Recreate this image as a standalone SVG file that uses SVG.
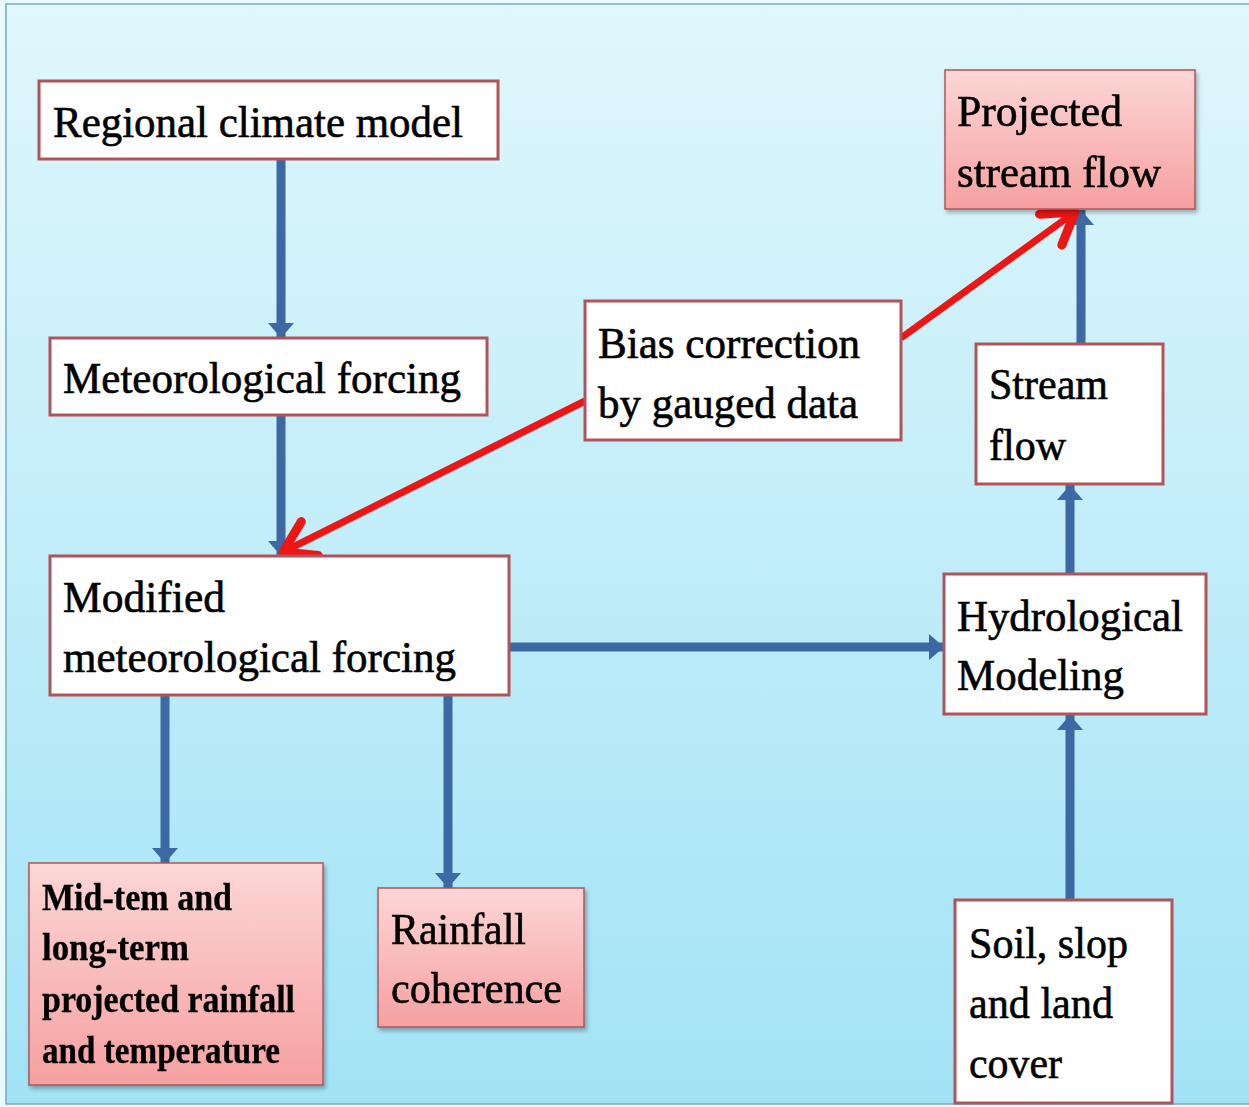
<svg xmlns="http://www.w3.org/2000/svg" width="1249" height="1107" viewBox="0 0 1249 1107">
<defs>
<linearGradient id="bg" x1="0" y1="0" x2="0" y2="1">
<stop offset="0" stop-color="#e0f7fc"/>
<stop offset="1" stop-color="#a2e3f6"/>
</linearGradient>
<linearGradient id="pink" x1="0" y1="0" x2="0" y2="1">
<stop offset="0" stop-color="#fcd6d6"/>
<stop offset="1" stop-color="#f6a0a0"/>
</linearGradient>
<filter id="sh" x="-10%" y="-10%" width="130%" height="130%">
<feDropShadow dx="2" dy="3" stdDeviation="2" flood-color="#000" flood-opacity="0.3"/>
</filter>
<marker id="bh" markerUnits="userSpaceOnUse" markerWidth="28" markerHeight="28" viewBox="0 0 28 28" refX="15" refY="14" orient="auto">
<path d="M0,1 L15,14 L0,27 Z" fill="#3c68a3"/>
</marker>
<marker id="rh" markerUnits="userSpaceOnUse" markerWidth="50" markerHeight="50" viewBox="0 0 50 50" refX="42" refY="25" orient="auto">
<path d="M12,6 L42,25 L12,44" fill="none" stroke="#ee1515" stroke-width="9" stroke-linecap="round" stroke-linejoin="round"/>
</marker>
</defs>
<style>
.box{fill:#ffffff;stroke:#b0545a;stroke-width:3}
.pbox{fill:url(#pink);stroke:#b0545a;stroke-width:1.5}
text{font-family:'Liberation Serif','Times New Roman',Times,serif;fill:#000;stroke:#000;stroke-width:0.6}
.t{font-size:44px}
.tb{font-size:38px;font-weight:bold;stroke-width:0.3}
.blue{stroke:#3c68a3;stroke-width:9;fill:none}
.red{stroke:#ee1515;stroke-width:7;fill:none}
</style>
<rect x="0" y="0" width="1249" height="1107" fill="#e8fafd"/>
<rect x="6" y="4" width="1260" height="1100" fill="url(#bg)" stroke="#7fa9b6" stroke-width="1.5"/>

<g id="connectors">
<line class="blue" x1="281" y1="160" x2="281" y2="338" marker-end="url(#bh)"/>
<line class="blue" x1="281" y1="415" x2="281" y2="556" marker-end="url(#bh)"/>
<line class="blue" x1="165" y1="695" x2="165" y2="863" marker-end="url(#bh)"/>
<line class="blue" x1="448" y1="695" x2="448" y2="888" marker-end="url(#bh)"/>
<line class="blue" x1="509" y1="647" x2="944" y2="647" marker-end="url(#bh)"/>
<line class="blue" x1="1070" y1="900" x2="1070" y2="715" marker-end="url(#bh)"/>
<line class="blue" x1="1070" y1="573" x2="1070" y2="485" marker-end="url(#bh)"/>
<line class="blue" x1="1081" y1="352" x2="1081" y2="210" marker-end="url(#bh)"/>
<line class="red" x1="585" y1="401" x2="283" y2="552" marker-end="url(#rh)"/>
<line class="red" x1="901" y1="338" x2="1075" y2="212" marker-end="url(#rh)"/>
</g>

<g id="regional-climate-model">
<rect class="box" x="39" y="81" width="459" height="78"/>
<text class="t" x="53" y="137" textLength="410" lengthAdjust="spacingAndGlyphs">Regional climate model</text>
</g>
<g id="meteorological-forcing">
<rect class="box" x="50" y="338" width="437" height="77"/>
<text class="t" x="63" y="393" textLength="398" lengthAdjust="spacingAndGlyphs">Meteorological forcing</text>
</g>
<g id="modified-forcing">
<rect class="box" x="50" y="556" width="459" height="139"/>
<text class="t" x="63" y="612" textLength="162" lengthAdjust="spacingAndGlyphs">Modified</text>
<text class="t" x="63" y="672" textLength="393" lengthAdjust="spacingAndGlyphs">meteorological forcing</text>
</g>
<g id="bias-correction">
<rect class="box" x="585" y="301" width="316" height="139"/>
<text class="t" x="598" y="358" textLength="262" lengthAdjust="spacingAndGlyphs">Bias correction</text>
<text class="t" x="598" y="418" textLength="260" lengthAdjust="spacingAndGlyphs">by gauged data</text>
</g>
<g id="projected-stream-flow" filter="url(#sh)">
<rect class="pbox" x="945" y="70" width="250" height="139"/>
<text class="t" x="957" y="126" textLength="165" lengthAdjust="spacingAndGlyphs">Projected</text>
<text class="t" x="957" y="187" textLength="204" lengthAdjust="spacingAndGlyphs">stream flow</text>
</g>
<g id="stream-flow">
<rect class="box" x="976" y="344" width="187" height="140"/>
<text class="t" x="989" y="399" textLength="119" lengthAdjust="spacingAndGlyphs">Stream</text>
<text class="t" x="989" y="460" textLength="77" lengthAdjust="spacingAndGlyphs">flow</text>
</g>
<g id="hydrological-modeling">
<rect class="box" x="944" y="574" width="262" height="140"/>
<text class="t" x="957" y="631" textLength="226" lengthAdjust="spacingAndGlyphs">Hydrological</text>
<text class="t" x="957" y="690" textLength="167" lengthAdjust="spacingAndGlyphs">Modeling</text>
</g>
<g id="soil-slope-land-cover">
<rect class="box" x="955" y="900" width="217" height="203"/>
<text class="t" x="969" y="958" textLength="159" lengthAdjust="spacingAndGlyphs">Soil, slop</text>
<text class="t" x="969" y="1018" textLength="144" lengthAdjust="spacingAndGlyphs">and land</text>
<text class="t" x="969" y="1078" textLength="93" lengthAdjust="spacingAndGlyphs">cover</text>
</g>
<g id="rainfall-coherence" filter="url(#sh)">
<rect class="pbox" x="378" y="888" width="206" height="139"/>
<text class="t" x="391" y="944" textLength="135" lengthAdjust="spacingAndGlyphs">Rainfall</text>
<text class="t" x="391" y="1003" textLength="171" lengthAdjust="spacingAndGlyphs">coherence</text>
</g>
<g id="projected-rainfall-temperature" filter="url(#sh)">
<rect class="pbox" x="29" y="863" width="294" height="222"/>
<text class="tb" x="42" y="910" textLength="190" lengthAdjust="spacingAndGlyphs">Mid-tem and</text>
<text class="tb" x="42" y="960" textLength="147" lengthAdjust="spacingAndGlyphs">long-term</text>
<text class="tb" x="42" y="1012" textLength="253" lengthAdjust="spacingAndGlyphs">projected rainfall</text>
<text class="tb" x="42" y="1063" textLength="238" lengthAdjust="spacingAndGlyphs">and temperature</text>
</g>
</svg>
